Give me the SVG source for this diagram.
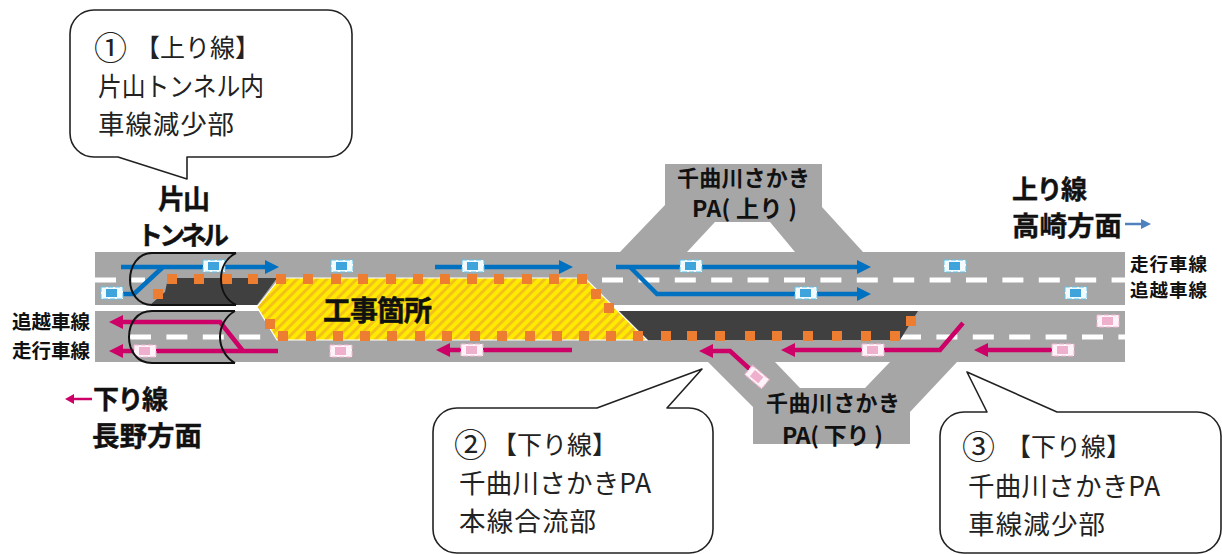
<svg xmlns="http://www.w3.org/2000/svg" width="1222" height="554" viewBox="0 0 1222 554">
<style>
text{font-family:"Noto Sans CJK JP","Noto Sans",sans-serif;fill:#111}
.b{font-weight:700}
.c{font-size:26.5px;fill:#222}
.n{font-size:33px;fill:#222}
.h{font-size:25px;fill:#222}
.road{fill:#a6a6a6}
.dark{fill:#404040}
.dash{stroke:#fff;stroke-width:5;stroke-dasharray:21 15.4;fill:none}
.up{stroke:#0070c0;stroke-width:4.5;fill:none;stroke-linejoin:miter}
.down{stroke:#cc0066;stroke-width:4.5;fill:none;stroke-linejoin:miter}
.tun{fill:none;stroke:#111;stroke-width:2}
.call{fill:#fff;stroke:#222;stroke-width:1.6;stroke-linejoin:round}
.o{fill:#ed7d31}
</style>
<defs>
<pattern id="hatch" width="7" height="7" patternUnits="userSpaceOnUse" patternTransform="rotate(45)">
<rect width="7" height="7" fill="#ffea00"/><rect width="3" height="7" fill="#f2c21a"/>
</pattern>
<marker id="au" markerUnits="userSpaceOnUse" markerWidth="14" markerHeight="14" viewBox="0 0 14 14" refX="3" refY="7" orient="auto"><path d="M0 0L14 7L0 14z" fill="#0070c0"/></marker>
<marker id="ad" markerUnits="userSpaceOnUse" markerWidth="14" markerHeight="14" viewBox="0 0 14 14" refX="3" refY="7" orient="auto"><path d="M0 0L14 7L0 14z" fill="#cc0066"/></marker>
<g id="cb"><rect x="-11" y="-6" width="22" height="12" fill="#f4fbff" stroke="#5cc4ee" stroke-width="1" stroke-dasharray="5 2"/><rect x="-6" y="-4" width="11" height="8" fill="#3fa4dc"/></g>
<g id="cp"><rect x="-11" y="-6" width="22" height="12" fill="#fdf3f8" stroke="#f4b4d0" stroke-width="1" stroke-dasharray="5 2"/><rect x="-6" y="-4" width="11" height="8" fill="#efb0cd"/></g>
<rect id="s" x="-5" y="-5" width="10" height="10" class="o"/>
</defs>

<g id="roads">
<polygon class="road" points="95,252 620,252 665,205 665,164 822,164 822,207 863,252 1125,252 1125,305 95,305"/>
<polygon points="687,252 715,222 770,222 795,252" fill="#fff"/>
<polygon class="road" points="95,311 1125,311 1125,362 957,362 910,412 910,444 753,444 753,407 708,362 95,362"/>
<polygon points="775,362 890,362 865,388 800,388" fill="#fff"/>
<path class="dash" d="M95 280H145M602 280H1125"/>
<path class="dash" d="M130 337H262M900 337H1125"/>
</g>

<g id="work">
<polygon class="dark" points="168,278 277,278 257,305 150,305 165,292"/>
<polygon class="dark" points="617,311 918,311 900,340 645,340"/>
<polygon points="280,278 585,278 647,340 277,340 257,307" fill="url(#hatch)" stroke="#fff" stroke-width="1.2"/>
<text class="b" x="323" y="321" font-size="28" textLength="109" stroke="#111" stroke-width=".5">工事箇所</text>
</g>

<g id="cones">
<use href="#s" x="172" y="279"/><use href="#s" x="199" y="279"/><use href="#s" x="227" y="279"/><use href="#s" x="253" y="279"/><use href="#s" x="281" y="279"/><use href="#s" x="308" y="279"/><use href="#s" x="336" y="279"/><use href="#s" x="363" y="279"/><use href="#s" x="391" y="279"/><use href="#s" x="418" y="279"/><use href="#s" x="445" y="279"/><use href="#s" x="472" y="279"/><use href="#s" x="499" y="279"/><use href="#s" x="527" y="279"/><use href="#s" x="554" y="279"/><use href="#s" x="582" y="279"/>
<use href="#s" x="158" y="294"/><use href="#s" x="596" y="294"/><use href="#s" x="609" y="308"/><use href="#s" x="270" y="324"/><use href="#s" x="911" y="321"/>
<use href="#s" x="283" y="336"/><use href="#s" x="311" y="336"/><use href="#s" x="338" y="336"/><use href="#s" x="365" y="336"/><use href="#s" x="392" y="336"/><use href="#s" x="420" y="336"/><use href="#s" x="447" y="336"/><use href="#s" x="475" y="336"/><use href="#s" x="502" y="336"/><use href="#s" x="530" y="336"/><use href="#s" x="557" y="336"/><use href="#s" x="584" y="336"/><use href="#s" x="611" y="336"/><use href="#s" x="638" y="336"/><use href="#s" x="666" y="336"/><use href="#s" x="692" y="336"/><use href="#s" x="720" y="336"/><use href="#s" x="750" y="336"/><use href="#s" x="777" y="336"/><use href="#s" x="808" y="336"/><use href="#s" x="837" y="336"/><use href="#s" x="866" y="336"/><use href="#s" x="895" y="336"/>
</g>

<g id="connectors">
<path class="up" d="M121 267H268" marker-end="url(#au)"/>
<path class="up" d="M122 294H134L163 267"/>
<path class="up" d="M435 267H562" marker-end="url(#au)"/>
<path class="up" d="M616 267H860" marker-end="url(#au)"/>
<path class="up" d="M630 267L657 294H860" marker-end="url(#au)"/>
<path class="down" d="M278 351H120" marker-end="url(#ad)"/>
<path class="down" d="M243 351L220 322H120" marker-end="url(#ad)"/>
<path class="down" d="M572 350H447" marker-end="url(#ad)"/>
<path class="down" d="M753 372L730 351H710" marker-end="url(#ad)"/>
<path class="down" d="M963 323L940 350H792" marker-end="url(#ad)"/>
<path class="down" d="M1055 350H985" marker-end="url(#ad)"/>
<path d="M1125 224H1142" stroke="#4f81bd" stroke-width="2.5" fill="none"/><path d="M1141 219L1151 224L1141 229z" fill="#4f81bd"/>
<path d="M92 399H72" stroke="#cc0066" stroke-width="2.5" fill="none"/><path d="M74 394L65 399L74 404z" fill="#cc0066"/>
</g>

<g id="cars">
<use href="#cb" x="214" y="266"/><use href="#cb" x="342" y="266"/><use href="#cb" x="473" y="266"/><use href="#cb" x="691" y="266"/><use href="#cb" x="955" y="266"/><use href="#cb" x="806" y="293"/><use href="#cb" x="1076" y="293"/><use href="#cb" x="112" y="293"/>
<use href="#cp" x="145" y="351"/><use href="#cp" x="341" y="351"/><use href="#cp" x="472" y="350"/><use href="#cp" x="1108" y="321"/><use href="#cp" x="873" y="350"/><use href="#cp" x="1063" y="350"/>
<use href="#cp" transform="translate(757 377) rotate(40)"/>
</g>

<g id="tunnel">
<path class="tun" d="M236 253H152C138 253 130 266 130 280C130 293 138 305 152 305H236"/>
<path class="tun" d="M236 253C226 258 221 268 221 279C221 290 226 300 236 305"/>
<path class="tun" d="M235 311H152C137 311 129 323 129 337C129 351 137 363 152 363H235"/>
<path class="tun" d="M235 311C226 316 220 326 220 337C220 348 226 358 235 363"/>
</g>

<g id="labels">
<text class="b" x="158" y="209" font-size="27" textLength="52" stroke="#111" stroke-width=".4">片山</text>
<text class="b" x="137" y="245" font-size="26" textLength="92" stroke="#111" stroke-width=".4">トンネル</text>
<text class="b" x="12" y="329" font-size="19.5" textLength="78">追越車線</text>
<text class="b" x="12" y="358" font-size="19.5" textLength="78">走行車線</text>
<text class="b" x="1130" y="271" font-size="18.5" textLength="77">走行車線</text>
<text class="b" x="1130" y="297" font-size="18.5" textLength="77">追越車線</text>
<text class="b" x="1012" y="199" font-size="26" textLength="75" stroke="#111" stroke-width=".4">上り線</text>
<text class="b" x="1012" y="236" font-size="27.5" textLength="110" stroke="#111" stroke-width=".4">高崎方面</text>
<text class="b" x="93" y="409" font-size="26" textLength="75" stroke="#111" stroke-width=".4">下り線</text>
<text class="b" x="92" y="446" font-size="27.5" textLength="110" stroke="#111" stroke-width=".4">長野方面</text>
<text class="b" x="677" y="186" font-size="22" textLength="133">千曲川さかき</text>
<text class="b" x="692" y="217" font-size="23" textLength="105">PA( 上り )</text>
<text class="b" x="766" y="411" font-size="22" textLength="134">千曲川さかき</text>
<text class="b" x="782" y="444" font-size="23" textLength="101">PA( 下り )</text>
</g>

<g id="callout1">
<path class="call" d="M94 10H328A24 24 0 0 1 352 34V133A24 24 0 0 1 328 157H187V179L118 157H94A24 24 0 0 1 70 133V34A24 24 0 0 1 94 10Z"/>
<text class="n" x="94" y="60">①</text>
<text class="h" x="135" y="57">【上り線】</text>
<text class="c" x="98" y="96" textLength="166" lengthAdjust="spacingAndGlyphs">片山トンネル内</text>
<text class="c" x="98" y="134" textLength="136">車線減少部</text>
</g>
<g id="callout2">
<path class="call" d="M457 408H597L702 369L667 408H689A24 24 0 0 1 713 432V529A24 24 0 0 1 689 553H457A24 24 0 0 1 433 529V432A24 24 0 0 1 457 408Z"/>
<text class="n" x="454" y="457">②</text>
<text class="h" x="492" y="454">【下り線】</text>
<text class="c" x="459" y="493" textLength="192">千曲川さかきPA</text>
<text class="c" x="459" y="531" textLength="137">本線合流部</text>
</g>
<g id="callout3">
<path class="call" d="M964 412H987L967 372L1057 412H1197A24 24 0 0 1 1221 436V529A24 24 0 0 1 1197 553H964A24 24 0 0 1 940 529V436A24 24 0 0 1 964 412Z"/>
<text class="n" x="962" y="459">③</text>
<text class="h" x="1006" y="456">【下り線】</text>
<text class="c" x="968" y="496" textLength="192">千曲川さかきPA</text>
<text class="c" x="968" y="534" textLength="137">車線減少部</text>
</g>
</svg>
